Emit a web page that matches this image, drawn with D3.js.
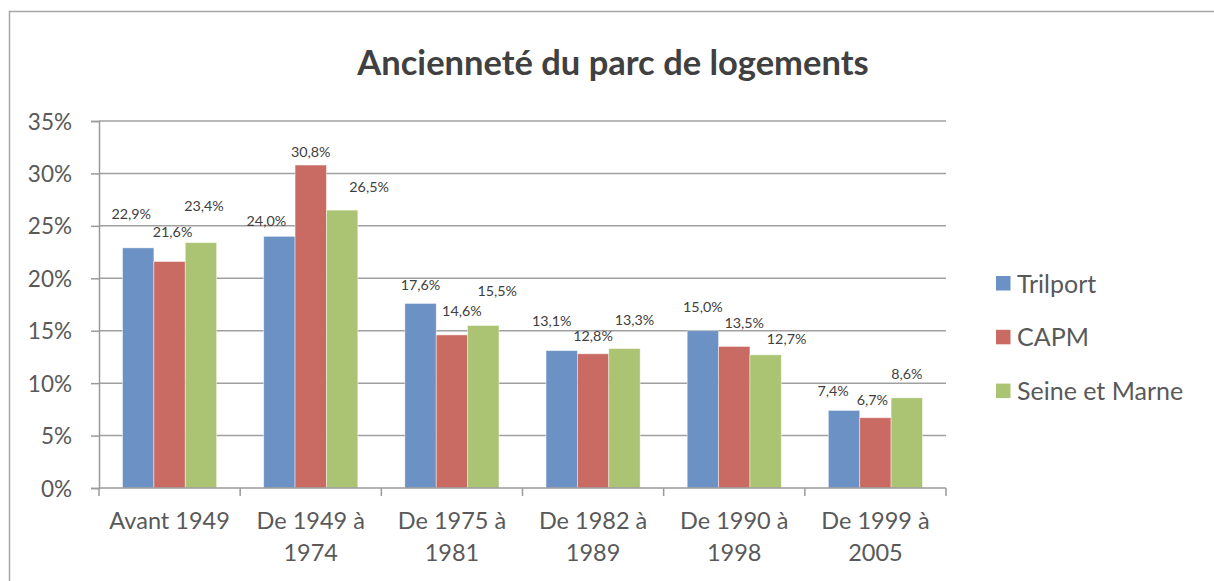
<!DOCTYPE html>
<html>
<head>
<meta charset="utf-8">
<script src="https://cdn.jsdelivr.net/npm/d3@7"></script>
<style>
  html, body { margin: 0; padding: 0; background: #fff; }
  svg { display: block; }
  text { font-family: Lato, "Open Sans", sans-serif; }
</style>
</head>
<body>
<svg id="chart" width="1214" height="581"></svg>
<script>
// Housing stock by construction period (share of dwellings, %)
const categories = ["Avant 1949", "De 1949 à 1974", "De 1975 à 1981", "De 1982 à 1989", "De 1990 à 1998", "De 1999 à 2005"];
const seriesNames = ["Trilport", "CAPM", "Seine et Marne"];
const trilport = [22.9, 24.0, 17.6, 13.1, 15.0, 7.4];
const capm = [21.6, 30.8, 14.6, 12.8, 13.5, 6.7];
const seineEtMarne = [23.4, 26.5, 15.5, 13.3, 12.7, 8.6];
const yTicks = [0, 5, 10, 15, 20, 25, 30, 35];

// Manual nudges of the value labels (px from bar centre / bar top), per category then series
const labelDx = [[-7, 3, 3], [-13, 0, 27], [0, 10, 14], [-10, 0, 10], [0, 10, 21], [-11, -3, 0]];
const labelDy = [[-34, -29.5, -36.6], [-15, -13, -23], [-18.4, -24, -34.5], [-30, -18, -28.5], [-24, -24, -16], [-20, -17.7, -24]];

const seriesValues = [trilport, capm, seineEtMarne];
const colors = ["#6b91c5", "#c96b63", "#aac473"];

const svg = d3.select("#chart");

// outer frame
svg.append("rect")
  .attr("x", 9.5).attr("y", 11.5)
  .attr("width", 1220).attr("height", 600)
  .attr("fill", "none").attr("stroke", "#a6a6a6").attr("stroke-width", 1.5);

const plot = { left: 99, right: 946, top: 121, bottom: 488 };

const x0 = d3.scaleBand().domain(categories).range([plot.left, plot.right]).padding(0);
const bw = x0.bandwidth();
const x1 = d3.scaleBand().domain(seriesNames).range([bw / 6, bw * 5 / 6]).padding(0);
const y = d3.scaleLinear().domain([0, 35]).range([plot.bottom, plot.top]);

// title
svg.append("text")
  .attr("x", 613).attr("y", 75)
  .attr("text-anchor", "middle")
  .attr("font-size", 34.5).attr("font-weight", 700)
  .attr("fill", "#404040")
  .text("Ancienneté du parc de logements");

// gridlines
svg.append("g")
  .selectAll("line")
  .data(yTicks.filter(t => t > 0))
  .join("line")
  .attr("x1", plot.left).attr("x2", plot.right)
  .attr("y1", d => y(d)).attr("y2", d => y(d))
  .attr("stroke", "#a0a0a0").attr("stroke-width", 1.5);

// y axis
const yAxis = svg.append("g")
  .attr("transform", `translate(${plot.left},0)`)
  .call(d3.axisLeft(y).tickValues(yTicks).tickSize(8).tickPadding(19).tickFormat(d => d + "%"));
yAxis.select(".domain").attr("stroke", "#9a9a9a").attr("stroke-width", 1.5);
yAxis.selectAll(".tick line").attr("stroke", "#9a9a9a").attr("stroke-width", 1.5);
yAxis.selectAll(".tick text")
  .attr("font-family", "Lato, sans-serif")
  .attr("font-size", 22.5).attr("fill", "#595959").attr("dy", "0.36em");

// bars
const groups = svg.append("g")
  .selectAll("g")
  .data(categories)
  .join("g")
  .attr("transform", d => `translate(${x0(d)},0)`);

groups.selectAll("rect")
  .data((c, ci) => seriesNames.map((s, si) => ({ s, si, ci, v: seriesValues[si][ci] })))
  .join("rect")
  .attr("x", d => x1(d.s))
  .attr("y", d => y(d.v))
  .attr("width", x1.bandwidth())
  .attr("height", d => y(0) - y(d.v))
  .attr("fill", d => colors[d.si])
  .attr("stroke", "#ffffff").attr("stroke-opacity", 0.55).attr("stroke-width", 0.8);

// value labels
const fmt = v => d3.format(".1f")(v).replace(".", ",") + "%";
groups.selectAll("text.val")
  .data((c, ci) => seriesNames.map((s, si) => ({ s, si, ci, v: seriesValues[si][ci] })))
  .join("text")
  .attr("class", "val")
  .attr("x", d => x1(d.s) + x1.bandwidth() / 2 + labelDx[d.ci][d.si])
  .attr("y", d => y(d.v) + labelDy[d.ci][d.si])
  .attr("dy", "0.36em")
  .attr("text-anchor", "middle")
  .attr("font-size", 14.3).attr("fill", "#404040")
  .text(d => fmt(d.v));

// x axis
const xAxis = svg.append("g")
  .attr("transform", `translate(0,${plot.bottom})`);
xAxis.append("line")
  .attr("x1", plot.left).attr("x2", plot.right)
  .attr("stroke", "#9a9a9a").attr("stroke-width", 1.5);
xAxis.selectAll("line.tick")
  .data(categories.map(c => x0(c)).concat([plot.right]))
  .join("line")
  .attr("class", "tick")
  .attr("x1", d => d).attr("x2", d => d)
  .attr("y1", 0).attr("y2", 8)
  .attr("stroke", "#9a9a9a").attr("stroke-width", 1.5);

// category labels, wrapped to the band width
const catText = xAxis.selectAll("text.cat")
  .data(categories)
  .join("text")
  .attr("class", "cat")
  .attr("text-anchor", "middle")
  .attr("font-size", 23.5).attr("fill", "#595959")
  .attr("transform", d => `translate(${x0(d) + bw / 2},41)`);

catText.each(function (d) {
  const t = d3.select(this);
  const words = d.split(" ");
  const maxW = bw - 8;
  let lines = [], line = [];
  const probe = t.append("tspan");
  words.forEach(w => {
    const test = line.concat([w]).join(" ");
    probe.text(test);
    if (probe.node().getComputedTextLength() > maxW && line.length) {
      lines.push(line.join(" "));
      line = [w];
    } else {
      line.push(w);
    }
  });
  lines.push(line.join(" "));
  probe.remove();
  lines.forEach((l, i) => {
    t.append("tspan").attr("x", 0).attr("y", i * 32).text(l);
  });
});

// legend
const legend = svg.append("g")
  .selectAll("g")
  .data(seriesNames)
  .join("g")
  .attr("transform", (d, i) => `translate(996,${276 + i * 53.8})`);
legend.append("rect")
  .attr("width", 14.5).attr("height", 14.5)
  .attr("fill", (d, i) => colors[i]);
legend.append("text")
  .attr("x", 21).attr("y", 7.5).attr("dy", "0.36em")
  .attr("font-size", 25).attr("fill", "#595959")
  .text(d => d);
</script>
</body>
</html>
